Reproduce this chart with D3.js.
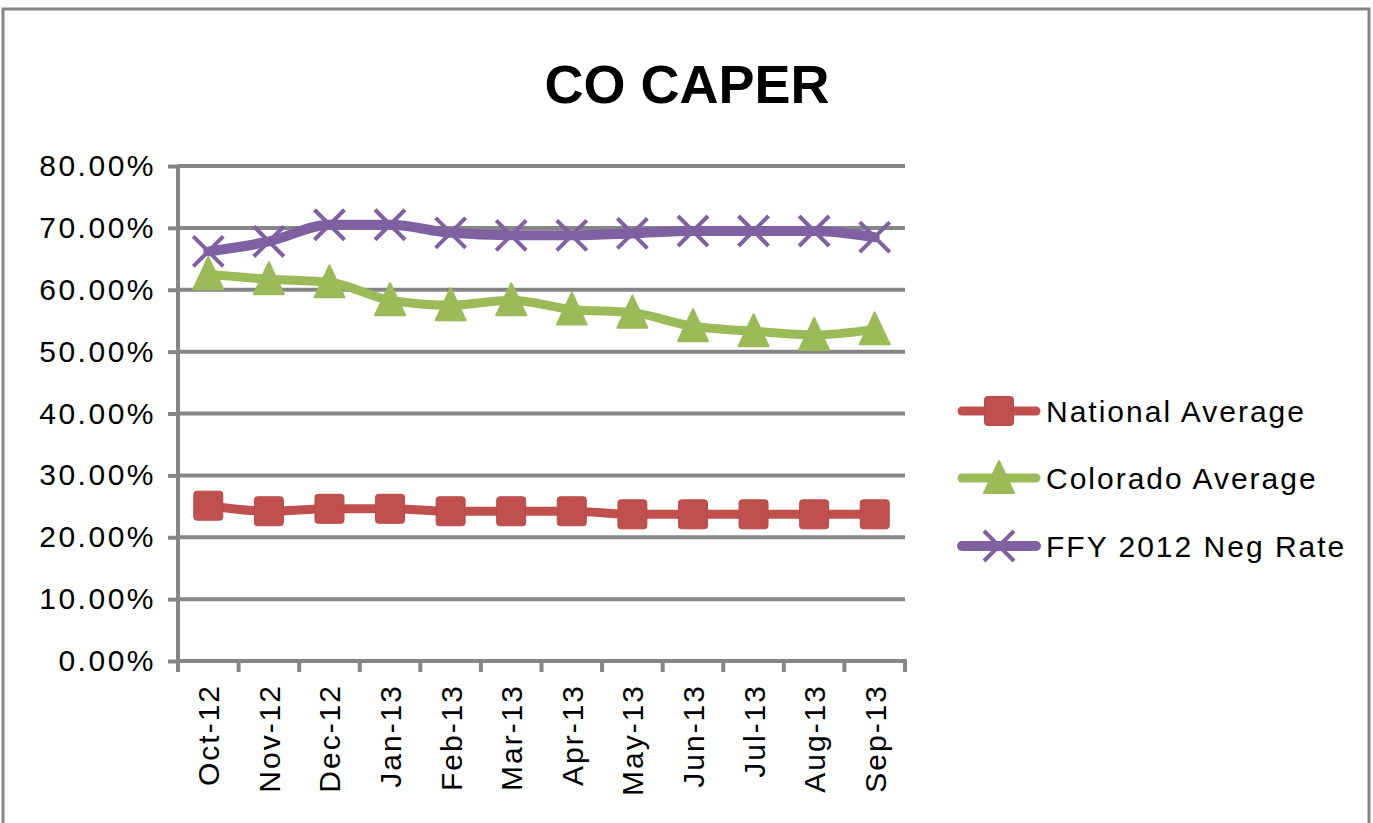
<!DOCTYPE html>
<html><head><meta charset="utf-8">
<script src="https://cdn.jsdelivr.net/npm/d3@7"></script>
<style>html,body{margin:0;padding:0;background:#fff;}</style>
</head><body><svg id="c" width="1373" height="823"></svg>
<script>
const categories = ["Oct-12","Nov-12","Dec-12","Jan-13","Feb-13","Mar-13","Apr-13","May-13","Jun-13","Jul-13","Aug-13","Sep-13"];
const nationalAverage = [25.1,24.2,24.6,24.6,24.2,24.2,24.2,23.7,23.7,23.7,23.7,23.7];
const coloradoAverage = [62.5,61.7,61.2,58.3,57.5,58.3,56.8,56.3,54.1,53.3,52.7,53.6];
const ffy2012NegRate = [66.2,67.8,70.5,70.5,69.2,68.8,68.8,69.1,69.5,69.5,69.5,68.5];
const yTicks = [0,10,20,30,40,50,60,70,80];
const seriesNames = ["National Average","Colorado Average","FFY 2012 Neg Rate"];
const seriesColors = ["#C0504D","#9BBB59","#7F60A0"];
const seriesMarkers = ["square","triangle","x"];
const seriesData = [nationalAverage, coloradoAverage, ffy2012NegRate];

const svg = d3.select("#c");
const grid = "#868686";
const L = 178, R = 905, T = 166, B = 661;
const FONT = "Liberation Sans, Arial, sans-serif";

svg.append("rect").attr("x",3).attr("y",9).attr("width",1366).attr("height",830)
  .attr("fill","none").attr("stroke",grid).attr("stroke-width",3);

svg.append("text").attr("x",687).attr("y",103).attr("text-anchor","middle")
  .attr("font-family",FONT).attr("font-weight","bold")
  .attr("font-size",54).attr("fill","#000").text("CO CAPER");

const x = d3.scalePoint().domain(categories).range([L,R]).padding(0.5);
const y = d3.scaleLinear().domain([0,80]).range([B,T]);

svg.append("g").selectAll("line").data(yTicks.filter(d=>d>0)).join("line")
  .attr("x1",L).attr("x2",R).attr("y1",d=>y(d)).attr("y2",d=>y(d))
  .attr("stroke",grid).attr("stroke-width",4);

const yAxis = d3.axisLeft(y).tickValues(yTicks).tickSize(10).tickPadding(8)
  .tickFormat(d=>d3.format(".2f")(d)+"%");
const gy = svg.append("g").attr("transform",`translate(${L},0)`).call(yAxis);
gy.select(".domain").attr("stroke",grid).attr("stroke-width",4).attr("d",`M0,${B+2}V${T}`);
gy.selectAll(".tick line").attr("stroke",grid).attr("stroke-width",4);
gy.selectAll(".tick text").attr("font-family",FONT)
  .attr("font-size",30).attr("letter-spacing",2.5).attr("fill","#000").attr("dx",-4);

const step = x.step();
const bounds = d3.range(categories.length+1).map(i=>L+i*step);
svg.append("line").attr("x1",L-2).attr("x2",R+2).attr("y1",B).attr("y2",B)
  .attr("stroke",grid).attr("stroke-width",4);
svg.append("g").selectAll("line").data(bounds).join("line")
  .attr("x1",d=>d).attr("x2",d=>d).attr("y1",B).attr("y2",B+11)
  .attr("stroke",grid).attr("stroke-width",4);
svg.append("g").selectAll("text").data(categories).join("text")
  .attr("transform",d=>`translate(${x(d)+11},684) rotate(-90)`)
  .attr("text-anchor","end").attr("font-family",FONT)
  .attr("font-size",30).attr("letter-spacing",2).attr("fill","#000").text(d=>d);

function marker(g, type, color, cx, cy){
  if(type==="square"){
    g.append("rect").attr("x",cx-14.5).attr("y",cy-14.5).attr("width",29).attr("height",29)
      .attr("rx",3).attr("fill",color).attr("stroke","#b84a47").attr("stroke-width",1);
  } else if(type==="triangle"){
    g.append("path").attr("d",`M${cx},${cy-17}L${cx+15},${cy+15}L${cx-15},${cy+15}Z`)
      .attr("fill",color).attr("stroke",color).attr("stroke-width",2).attr("stroke-linejoin","round");
  } else {
    g.append("path").attr("d",`M${cx-15},${cy-15}L${cx+15},${cy+15}M${cx-15},${cy+15}L${cx+15},${cy-15}`)
      .attr("stroke",color).attr("stroke-width",4);
  }
}

const line = d3.line().x((d,i)=>x(categories[i])).y(d=>y(d)).curve(d3.curveMonotoneX);
const widths = [9,9,10];
seriesData.forEach((vals,si)=>{
  const g = svg.append("g");
  g.append("path").attr("d",line(vals)).attr("fill","none").attr("stroke",seriesColors[si])
    .attr("stroke-width",widths[si]).attr("stroke-linejoin","round").attr("stroke-linecap","round");
  vals.forEach((v,i)=>marker(g, seriesMarkers[si], seriesColors[si], x(categories[i]), y(v)));
});

const legY = [411,478,546];
seriesNames.forEach((n,si)=>{
  const g = svg.append("g");
  g.append("line").attr("x1",962).attr("x2",1036).attr("y1",legY[si]).attr("y2",legY[si])
    .attr("stroke",seriesColors[si]).attr("stroke-width",widths[si]).attr("stroke-linecap","round");
  marker(g, seriesMarkers[si], seriesColors[si], 999, legY[si]);
  g.append("text").attr("x",1046).attr("y",legY[si]+11)
    .attr("font-family",FONT).attr("font-size",30)
    .attr("letter-spacing",2).attr("fill","#000").text(n);
});
</script></body></html>
